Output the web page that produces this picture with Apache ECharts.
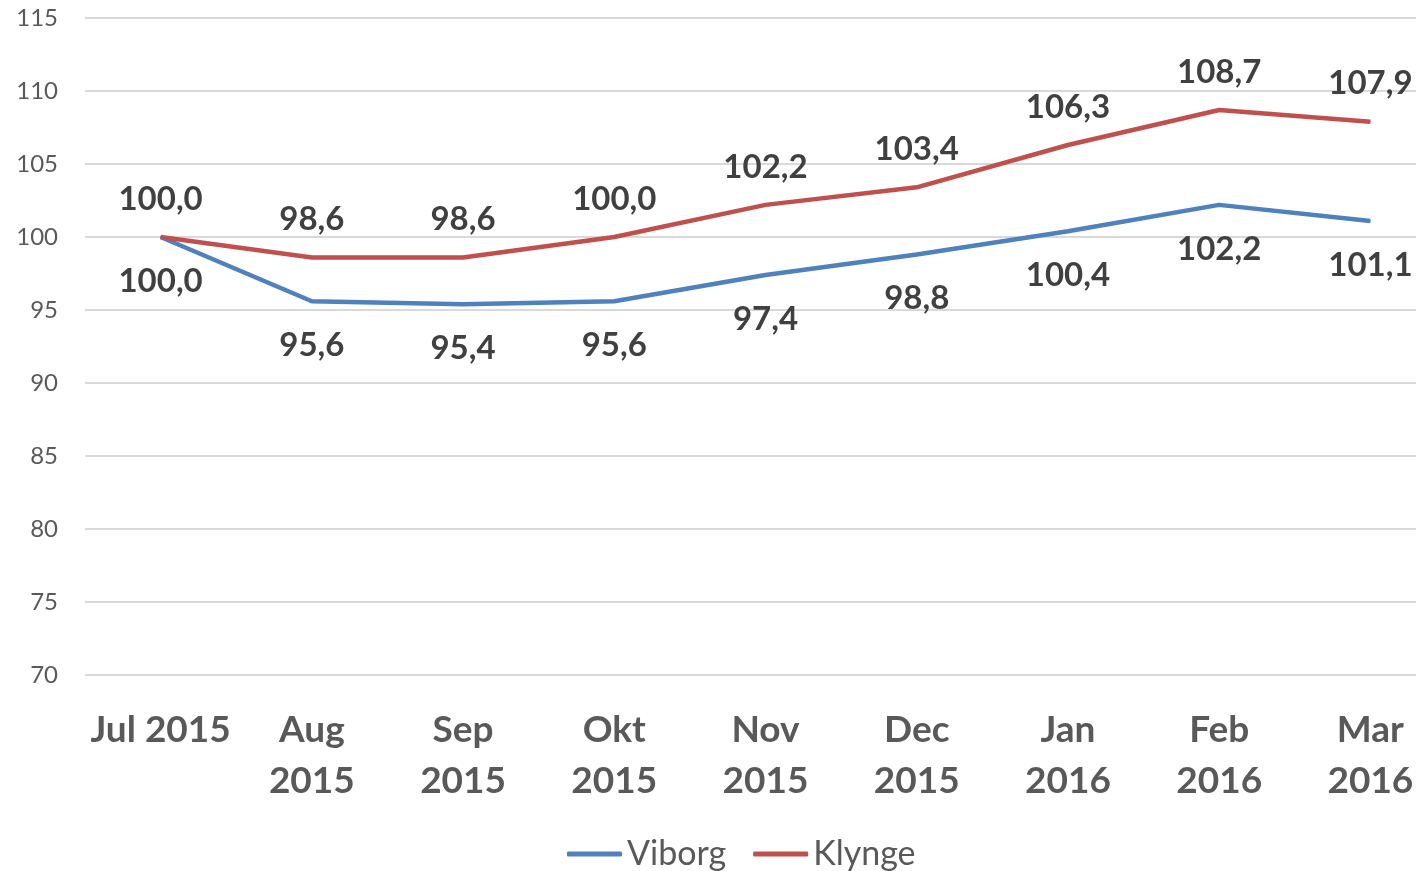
<!DOCTYPE html>
<html>
<head>
<meta charset="utf-8">
<script src="https://cdn.jsdelivr.net/npm/echarts@6/dist/echarts.min.js"></script>
<style>
  html, body { margin: 0; padding: 0; background: #fff; }
  #chart { width: 1416px; height: 871px; }
</style>
</head>
<body>
<div id="chart"></div>
<script>
const categories = ['Jul 2015', 'Aug\n2015', 'Sep\n2015', 'Okt\n2015', 'Nov\n2015', 'Dec\n2015', 'Jan\n2016', 'Feb\n2016', 'Mar\n2016'];
const viborg = [100.0, 95.6, 95.4, 95.6, 97.4, 98.8, 100.4, 102.2, 101.1];
const klynge = [100.0, 98.6, 98.6, 100.0, 102.2, 103.4, 106.3, 108.7, 107.9];

const font = 'Lato, "Open Sans", sans-serif';
const fmt = p => p.value.toFixed(1).replace('.', ',');

const chart = echarts.init(document.getElementById('chart'));
chart.setOption({
  animation: false,
  textStyle: { fontFamily: font },
  grid: { left: 85, right: -30, top: 18, bottom: 196, outerBoundsMode: 'none' },
  legend: {
    data: ['Viborg', 'Klynge'],
    top: 837,
    left: 567,
    padding: 0,
    icon: 'roundRect',
    itemWidth: 55,
    itemHeight: 5,
    itemGap: 27,
    textStyle: { fontSize: 34, color: '#595959', fontFamily: font, padding: [0, 0, 0, 0] }
  },
  xAxis: {
    type: 'category',
    data: categories,
    axisLine: { show: false },
    axisTick: { show: false },
    axisLabel: {
      color: '#595959',
      fontSize: 37,
      fontWeight: 'bold',
      lineHeight: 51,
      margin: 30,
      interval: 0
    }
  },
  yAxis: {
    type: 'value',
    min: 70,
    max: 115,
    interval: 5,
    axisLine: { show: false },
    axisTick: { show: false },
    axisLabel: { color: '#595959', fontSize: 24, margin: 27 },
    splitLine: { lineStyle: { color: '#d9d9d9', width: 2 } }
  },
  series: [
    {
      name: 'Viborg',
      type: 'line',
      data: viborg,
      symbol: 'circle',
      symbolSize: 1,
      lineStyle: { color: '#4f81bd', width: 4.5 },
      itemStyle: { color: '#4f81bd' },
      label: {
        show: true,
        position: 'bottom',
        distance: 27,
        formatter: fmt,
        fontSize: 33,
        fontWeight: 'bold',
        color: '#404040'
      }
    },
    {
      name: 'Klynge',
      type: 'line',
      data: klynge,
      symbol: 'circle',
      symbolSize: 1,
      lineStyle: { color: '#c0504d', width: 4.5 },
      itemStyle: { color: '#c0504d' },
      label: {
        show: true,
        position: 'top',
        distance: 21,
        formatter: fmt,
        fontSize: 33,
        fontWeight: 'bold',
        color: '#404040'
      }
    }
  ]
});
</script>
</body>
</html>
